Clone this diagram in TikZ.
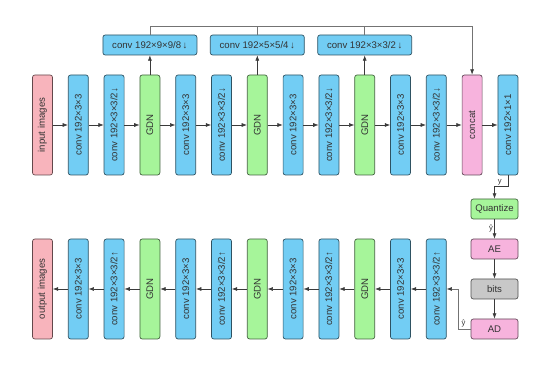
\documentclass[tikz,border=0pt]{standalone}
\usepackage{fontspec}
\setmainfont{Liberation Sans}
\usetikzlibrary{arrows.meta,positioning}
\definecolor{convblue}{HTML}{72CDF4}
\definecolor{gdngreen}{HTML}{A6F59A}
\definecolor{imgpink}{HTML}{F8B4BC}
\definecolor{catpink}{HTML}{F7B3DD}
\definecolor{bitsgray}{HTML}{C8C8C8}
\definecolor{wire}{HTML}{3A3A3A}
\tikzset{
  blk/.style={rounded corners=2pt,line width=0.6pt,inner sep=0pt,align=center,
    font=\fontsize{8.2}{9.5}\selectfont,text=black!80},
  tall/.style={blk,rotate=90,minimum width=30mm,minimum height=6mm},
  wide/.style={blk,minimum width=14.1mm,minimum height=6mm},
  convbox/.style={tall,fill=convblue,draw=convblue!40!black},
  gdnbox/.style={tall,fill=gdngreen,draw=gdngreen!40!black},
  imgbox/.style={tall,fill=imgpink,draw=imgpink!40!black},
  catbox/.style={tall,fill=catpink,draw=catpink!40!black},
  scalebox/.style={blk,fill=convblue,draw=convblue!40!black,minimum width=28.2mm,minimum height=6mm},
  arr/.style={-{Latex[length=1.6mm,width=1.2mm,color=wire]},line width=0.5pt,draw=wire},
  fb/.style={line width=0.5pt,draw=black!55},
  lbl/.style={font=\fontsize{6.5}{7}\selectfont,text=black!80,inner sep=1pt},
}

\begin{document}
\begin{tikzpicture}[x=0.3mm,y=-0.3mm]
  \useasboundingbox (0,0) rectangle (543,373);
  % analysis row
  \node[imgbox]  (e0)  at (42.5,125)  {input images};
  \node[convbox] (e1)  at (78.3,125)  {conv 192×3×3};
  \node[convbox] (e2)  at (114.1,125) {conv 192×3×3/2↓};
  \node[gdnbox]  (e3)  at (149.9,125) {GDN};
  \node[convbox] (e4)  at (185.7,125) {conv 192×3×3};
  \node[convbox] (e5)  at (221.5,125) {conv 192×3×3/2↓};
  \node[gdnbox]  (e6)  at (257.3,125) {GDN};
  \node[convbox] (e7)  at (293.1,125) {conv 192×3×3};
  \node[convbox] (e8)  at (328.9,125) {conv 192×3×3/2↓};
  \node[gdnbox]  (e9)  at (364.7,125) {GDN};
  \node[convbox] (e10) at (400.5,125) {conv 192×3×3};
  \node[convbox] (e11) at (436.3,125) {conv 192×3×3/2↓};
  \node[catbox]  (e12) at (472.1,125) {concat};
  \node[convbox] (e13) at (507.9,125) {conv 192×1×1};
  % side branches
  \node[scalebox] (s1) at (149.9,45) {conv 192×9×9/8\,↓};
  \node[scalebox] (s2) at (257.3,45) {conv 192×5×5/4\,↓};
  \node[scalebox] (s3) at (364.7,45) {conv 192×3×3/2\,↓};
  % entropy coding
  \node[wide,fill=gdngreen,draw=gdngreen!40!black] (q)  at (494.5,209) {Quantize};
  \node[wide,fill=catpink,draw=catpink!40!black]   (ae) at (494.5,249) {AE};
  \node[wide,fill=bitsgray,draw=bitsgray!40!black] (bt) at (494.5,289) {bits};
  \node[wide,fill=catpink,draw=catpink!40!black]   (ad) at (494.5,329) {AD};
  % synthesis row
  \node[imgbox]  (d0)  at (42.5,289)  {output images};
  \node[convbox] (d1)  at (78.3,289)  {conv 192×3×3};
  \node[convbox] (d2)  at (114.1,289) {conv 192×3×3/2↑};
  \node[gdnbox]  (d3)  at (149.9,289) {GDN};
  \node[convbox] (d4)  at (185.7,289) {conv 192×3×3};
  \node[convbox] (d5)  at (221.5,289) {conv 192×3×3/2↑};
  \node[gdnbox]  (d6)  at (257.3,289) {GDN};
  \node[convbox] (d7)  at (293.1,289) {conv 192×3×3};
  \node[convbox] (d8)  at (328.9,289) {conv 192×3×3/2↑};
  \node[gdnbox]  (d9)  at (364.7,289) {GDN};
  \node[convbox] (d10) at (400.5,289) {conv 192×3×3};
  \node[convbox] (d11) at (436.3,289) {conv 192×3×3/2↑};
  % connectors
  \foreach \i [evaluate=\i as \j using int(\i+1)] in {0,...,12}{
    \draw[arr] (e\i) -- (e\j);
  }
  \foreach \i [evaluate=\i as \j using int(\i+1)] in {0,...,10}{
    \draw[arr] (d\j) -- (d\i);
  }
  \draw[arr] (e3) -- (s1);
  \draw[arr] (e6) -- (s2);
  \draw[arr] (e9) -- (s3);
  \draw[fb] (s2.north) -- ++(0,-8);
  \draw[fb] (s3.north) -- ++(0,-8);
  \draw[arr,draw=black!55] (s1.north) -- ++(0,-8) -| (e12);
  \draw[arr] (e13.west) -- ++(0,11) -| node[pos=0.3,above,lbl] {y} (q);
  \draw[arr] (q) -- node[left,lbl] {ŷ} (ae);
  \draw[arr] (ae) -- (bt);
  \draw[arr] (bt) -- (ad);
  \draw[arr,draw=black!55] (ad.west) -- node[pos=0.6,above,lbl] {ŷ} ++(-12,0) |- (d11);
\end{tikzpicture}
\end{document}
